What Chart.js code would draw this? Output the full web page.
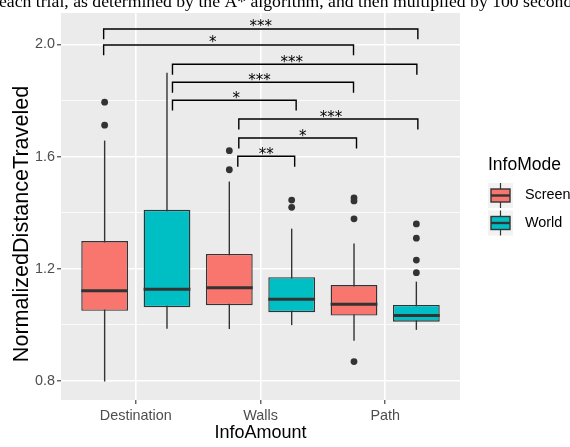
<!DOCTYPE html>
<html>
<head>
<meta charset="utf-8">
<script src="https://cdn.jsdelivr.net/npm/chart.js@4.4.1/dist/chart.umd.min.js"></script>
<style>
  html, body { margin: 0; padding: 0; background: #fff; }
</style>
</head>
<body>
<canvas id="chart" width="570" height="447"></canvas>
<script>
// data
const categories = ['Destination', 'Walls', 'Path'];
const modes = ['Screen', 'World'];

const screenQ1 = [1.050, 1.070, 1.033];
const screenMedian = [1.122, 1.132, 1.073];
const screenQ3 = [1.299, 1.253, 1.142];
const screenLow = [0.798, 0.985, 0.943];
const screenHigh = [1.657, 1.511, 1.290];
const screenOutliers = [[1.794, 1.712], [1.621, 1.553], [1.453, 1.442, 1.378, 0.869]];

const worldQ1 = [1.063, 1.045, 1.011];
const worldMedian = [1.127, 1.091, 1.033];
const worldQ3 = [1.410, 1.170, 1.071];
const worldLow = [0.986, 0.999, 0.982];
const worldHigh = [1.899, 1.343, 1.154];
const worldOutliers = [[], [1.445, 1.419], [1.360, 1.309, 1.231, 1.186]];

// significance brackets (x in category index units, y in data units)
const bracketLabels = ['***', '*', '***', '***', '*', '***', '*', '**'];
const bracketY = [2.055, 1.998, 1.929, 1.865, 1.801, 1.734, 1.666, 1.601];
const bracketFrom = [-0.258, -0.258, 0.294, 0.294, 0.294, 0.826, 0.826, 0.818];
const bracketTo = [2.262, 1.746, 2.254, 1.746, 1.286, 2.262, 1.770, 1.274];
const bracketLabelX = [1.002, 0.618, 1.25, 0.992, 0.806, 1.566, 1.338, 1.046];
const bracketTip = 0.037;

const yTicks = [0.8, 1.0, 1.2, 1.4, 1.6, 1.8, 2.0];
const yLabelled = [0.8, 1.2, 1.6, 2.0];

const titleText = 'each trial, as determined by the A* algorithm, and then multiplied by 100 seconds';
const yTitle = 'NormalizedDistanceTraveled';

const ctx = document.getElementById('chart').getContext('2d');

// ggplot pads a discrete axis by 0.6 of a category on each side
class GgCategoryScale extends Chart.CategoryScale {
  buildTicks() {
    const ticks = super.buildTicks();
    this._startValue = this.min - 0.6;
    this._valueRange = this.max - this.min + 1.2;
    return ticks;
  }
}
GgCategoryScale.id = 'ggcategory';
GgCategoryScale.defaults = Chart.CategoryScale.defaults;
Chart.register(GgCategoryScale);

const ink = '#333333';

const ggBoxplot = {
  id: 'ggBoxplot',
  beforeDraw(chart) {
    const { ctx, chartArea: a } = chart;
    ctx.save();
    ctx.fillStyle = '#EBEBEB';
    ctx.fillRect(a.left, a.top, a.right - a.left, a.bottom - a.top);
    ctx.restore();
  },
  beforeDatasetsDraw(chart) {
    // whiskers go under the boxes
    const { ctx } = chart;
    const y = chart.scales.y;
    ctx.save();
    ctx.strokeStyle = ink;
    ctx.lineWidth = 1.4;
    chart.data.datasets.forEach((ds, i) => {
      chart.getDatasetMeta(i).data.forEach((bar, j) => {
        ctx.beginPath();
        ctx.moveTo(bar.x, y.getPixelForValue(ds.whiskerLow[j]));
        ctx.lineTo(bar.x, y.getPixelForValue(ds.whiskerHigh[j]));
        ctx.stroke();
      });
    });
    ctx.restore();
  },
  afterDatasetsDraw(chart) {
    const { ctx } = chart;
    const x = chart.scales.x;
    const y = chart.scales.y;
    ctx.save();
    chart.data.datasets.forEach((ds, i) => {
      chart.getDatasetMeta(i).data.forEach((bar, j) => {
        // median
        const my = y.getPixelForValue(ds.median[j]);
        ctx.strokeStyle = ink;
        ctx.lineWidth = 3;
        ctx.beginPath();
        ctx.moveTo(bar.x - bar.width / 2, my);
        ctx.lineTo(bar.x + bar.width / 2, my);
        ctx.stroke();
        // outliers
        ctx.fillStyle = ink;
        ds.outliers[j].forEach(v => {
          ctx.beginPath();
          ctx.arc(bar.x, y.getPixelForValue(v), 3.4, 0, Math.PI * 2);
          ctx.fill();
        });
      });
    });

    // brackets
    ctx.strokeStyle = '#000';
    ctx.lineWidth = 1.4;
    ctx.fillStyle = '#000';
    ctx.font = '15px "DejaVu Sans"';
    ctx.textAlign = 'center';
    ctx.textBaseline = 'alphabetic';
    bracketLabels.forEach((lab, k) => {
      const x1 = x.getPixelForValue(bracketFrom[k]);
      const x2 = x.getPixelForValue(bracketTo[k]);
      const yt = y.getPixelForValue(bracketY[k]);
      const yb = y.getPixelForValue(bracketY[k] - bracketTip);
      ctx.beginPath();
      ctx.moveTo(x1, yb);
      ctx.lineTo(x1, yt);
      ctx.lineTo(x2, yt);
      ctx.lineTo(x2, yb);
      ctx.stroke();
      ctx.fillText(lab, x.getPixelForValue(bracketLabelX[k]), yt + 2.5);
    });
    ctx.restore();
  },
  afterDraw(chart) {
    const { ctx } = chart;
    ctx.save();
    // caption line from the page above, cut off at the top
    ctx.fillStyle = '#000';
    ctx.font = '17.7px "Liberation Serif"';
    ctx.textAlign = 'left';
    ctx.textBaseline = 'alphabetic';
    ctx.fillText(titleText, -1, 6.5);

    // y axis title, set a little larger and lower than the axis centre as in the figure
    ctx.save();
    ctx.translate(22.5, 224);
    ctx.rotate(-Math.PI / 2);
    ctx.font = '21.6px "Liberation Sans"';
    ctx.textAlign = 'center';
    ctx.textBaseline = 'middle';
    ctx.fillText(yTitle, 0, 0);
    ctx.restore();

    // legend
    const lx = chart.chartArea.right + 28;
    ctx.font = '17.5px "Liberation Sans"';
    ctx.textBaseline = 'middle';
    ctx.fillText('InfoMode', lx, 165);
    ctx.font = '14.4px "Liberation Sans"';
    chart.data.datasets.forEach((ds, i) => {
      const top = 183 + i * 27.5;
      const size = 25;
      ctx.fillStyle = '#F2F2F2';
      ctx.fillRect(lx, top, size, size);
      ctx.strokeStyle = ink;
      ctx.lineWidth = 1.2;
      ctx.beginPath();
      ctx.moveTo(lx + size / 2, top);
      ctx.lineTo(lx + size / 2, top + size);
      ctx.stroke();
      ctx.fillStyle = ds.backgroundColor;
      ctx.fillRect(lx + 3, top + 6, size - 6, size - 12);
      ctx.lineWidth = 1.4;
      ctx.strokeRect(lx + 3, top + 6, size - 6, size - 12);
      ctx.lineWidth = 2.4;
      ctx.beginPath();
      ctx.moveTo(lx + 3, top + size / 2);
      ctx.lineTo(lx + size - 3, top + size / 2);
      ctx.stroke();
      ctx.fillStyle = '#000';
      ctx.fillText(ds.label, lx + 37, top + size / 2);
    });
    ctx.restore();
  }
};

function boxRanges(q1, q3) {
  return q1.map((v, i) => [v, q3[i]]);
}

const tickFont = { family: 'Liberation Sans', size: 14.4 };
const titleFont = { family: 'Liberation Sans', size: 18 };

new Chart(ctx, {
  type: 'bar',
  data: {
    labels: categories,
    datasets: [{
      label: modes[0],
      data: boxRanges(screenQ1, screenQ3),
      median: screenMedian,
      whiskerLow: screenLow,
      whiskerHigh: screenHigh,
      outliers: screenOutliers,
      backgroundColor: '#F8766D',
      borderColor: ink,
      borderWidth: 1.4,
      borderSkipped: false
    }, {
      label: modes[1],
      data: boxRanges(worldQ1, worldQ3),
      median: worldMedian,
      whiskerLow: worldLow,
      whiskerHigh: worldHigh,
      outliers: worldOutliers,
      backgroundColor: '#00BFC4',
      borderColor: ink,
      borderWidth: 1.4,
      borderSkipped: false
    }]
  },
  options: {
    responsive: false,
    animation: false,
    events: [],
    devicePixelRatio: 1,
    categoryPercentage: 1,
    barPercentage: 0.75,
    layout: { padding: { top: 13, right: 110, bottom: 0, left: 0 } },
    plugins: {
      legend: { display: false },
      tooltip: { enabled: false }
    },
    scales: {
      x: {
        type: 'ggcategory',
        offset: true,
        border: { display: false },
        grid: { offset: false, color: '#FFFFFF', lineWidth: 1.6, tickColor: ink, tickWidth: 1.1, tickLength: 4 },
        ticks: { color: '#4D4D4D', font: tickFont, padding: 3, maxRotation: 0 },
        title: { display: true, text: 'InfoAmount', color: '#000', font: titleFont, padding: { top: 0, bottom: 3 } },
        afterFit: s => { s.height = 47; }
      },
      y: {
        type: 'linear',
        min: 0.732,
        max: 2.112,
        border: { display: false },
        afterBuildTicks: s => { s.ticks = yTicks.map(v => ({ value: v })); },
        grid: {
          color: '#FFFFFF',
          lineWidth: c => yLabelled.includes(c.tick.value) ? 1.6 : 0.8,
          tickColor: c => yLabelled.includes(c.tick.value) ? ink : 'rgba(0,0,0,0)',
          tickWidth: 1.1,
          tickLength: 4
        },
        ticks: {
          color: '#4D4D4D',
          font: tickFont,
          padding: 2,
          autoSkip: false,
          callback: v => yLabelled.includes(v) ? v.toFixed(1) : ''
        },
        afterFit: s => { s.width = 61; }
      }
    }
  },
  plugins: [ggBoxplot]
});
</script>
</body>
</html>
